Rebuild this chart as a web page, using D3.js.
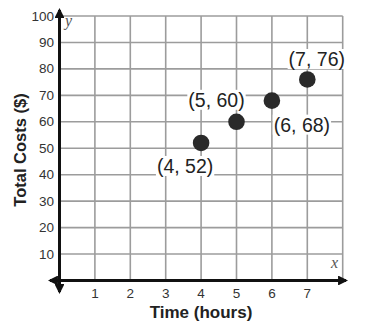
<!DOCTYPE html>
<html><head><meta charset="utf-8">
<script src="https://cdn.jsdelivr.net/npm/d3@7"></script>
<style>
html,body{margin:0;padding:0;background:#fff;}
svg{display:block;}
</style></head>
<body>
<svg id="chart" width="391" height="329"></svg>
<script>
// ---- data ----
const hours = [4, 5, 6, 7];
const costs = [52, 60, 68, 76];
const xTicks = [1, 2, 3, 4, 5, 6, 7];
const yTicks = [10, 20, 30, 40, 50, 60, 70, 80, 90, 100];
const xTitle = "Time (hours)";
const yTitle = "Total Costs ($)";
// label placement (pixel offsets from each point, styling only)
const labelDx = [-16, -20, 30, 9.5];
const labelDy = [30, -15, 31, -13.5];

const svg = d3.select("#chart");
const x = d3.scaleLinear().domain([0, 8]).range([59.5, 342.7]);
const y = d3.scaleLinear().domain([0, 100]).range([280.5, 16]);

const gridColor = "#9c9c9c";
// grid
const grid = svg.append("g");
grid.selectAll("line.v").data(d3.range(1, 9)).enter().append("line")
  .attr("x1", d => x(d)).attr("x2", d => x(d))
  .attr("y1", y(100)).attr("y2", y(0))
  .attr("stroke", gridColor).attr("stroke-width", 1.6);
grid.selectAll("line.h").data(yTicks).enter().append("line")
  .attr("x1", x(0)).attr("x2", x(8))
  .attr("y1", d => y(d)).attr("y2", d => y(d))
  .attr("stroke", gridColor).attr("stroke-width", 1.6);

// axes with arrows
const defs = svg.append("defs");
defs.append("marker").attr("id", "arr").attr("viewBox", "0 0 10 10")
  .attr("refX", 8).attr("refY", 5).attr("markerWidth", 3.3).attr("markerHeight", 3.3)
  .attr("orient", "auto-start-reverse").attr("markerUnits", "strokeWidth")
  .append("path").attr("d", "M0,0 L10,5 L0,10 Z").attr("fill", "#111");

svg.append("line").attr("x1", 50).attr("x2", 346).attr("y1", y(0)).attr("y2", y(0))
  .attr("stroke", "#111").attr("stroke-width", 3)
  .attr("marker-start", "url(#arr)").attr("marker-end", "url(#arr)");
svg.append("line").attr("x1", x(0)).attr("x2", x(0)).attr("y1", 292).attr("y2", 10)
  .attr("stroke", "#111").attr("stroke-width", 3)
  .attr("marker-start", "url(#arr)").attr("marker-end", "url(#arr)");

// tick labels
const tickFont = "Liberation Sans, Arial, sans-serif";
svg.append("g").selectAll("text").data(yTicks).enter().append("text")
  .attr("x", 54).attr("y", d => y(d) + 4.5)
  .attr("text-anchor", "end").attr("font-family", tickFont).attr("font-size", 13.5)
  .attr("fill", "#333").text(d => d);
svg.append("g").selectAll("text").data(xTicks).enter().append("text")
  .attr("x", d => x(d)).attr("y", 298)
  .attr("text-anchor", "middle").attr("font-family", tickFont).attr("font-size", 13.5)
  .attr("fill", "#333").text(d => d);

// axis variable letters
svg.append("text").attr("x", 65).attr("y", 26).attr("font-family", "Liberation Serif, Times New Roman, serif")
  .attr("font-style", "italic").attr("font-size", 16).attr("fill", "#555").text("y");
svg.append("text").attr("x", 331).attr("y", 268).attr("font-family", "Liberation Serif, Times New Roman, serif")
  .attr("font-style", "italic").attr("font-size", 16).attr("fill", "#555").text("x");

// titles
svg.append("text").attr("x", 201).attr("y", 318).attr("text-anchor", "middle")
  .attr("font-family", tickFont).attr("font-weight", "bold").attr("font-size", 17)
  .attr("fill", "#222").text(xTitle);
svg.append("text").attr("transform", "translate(26,150) rotate(-90)").attr("text-anchor", "middle")
  .attr("font-family", tickFont).attr("font-weight", "bold").attr("font-size", 16.5)
  .attr("fill", "#222").text(yTitle);

// points
const pts = hours.map((h, i) => ({h, c: costs[i], i}));
svg.append("g").selectAll("circle").data(pts).enter().append("circle")
  .attr("cx", d => x(d.h)).attr("cy", d => y(d.c)).attr("r", 8.3).attr("fill", "#2a2a2a");

// point labels with white backgrounds
const lg = svg.append("g");
pts.forEach(d => {
  const g = lg.append("g");
  const t = g.append("text")
    .attr("x", x(d.h) + labelDx[d.i]).attr("y", y(d.c) + labelDy[d.i])
    .attr("text-anchor", "middle").attr("font-family", tickFont).attr("font-size", 19.5)
    .attr("fill", "#222").text(`(${d.h}, ${d.c})`);
  const b = t.node().getBBox();
  g.insert("rect", "text").attr("x", b.x - 1).attr("y", b.y + 1).attr("width", b.width + 2)
    .attr("height", b.height - 2).attr("fill", "#fff");
});
</script>
</body></html>
